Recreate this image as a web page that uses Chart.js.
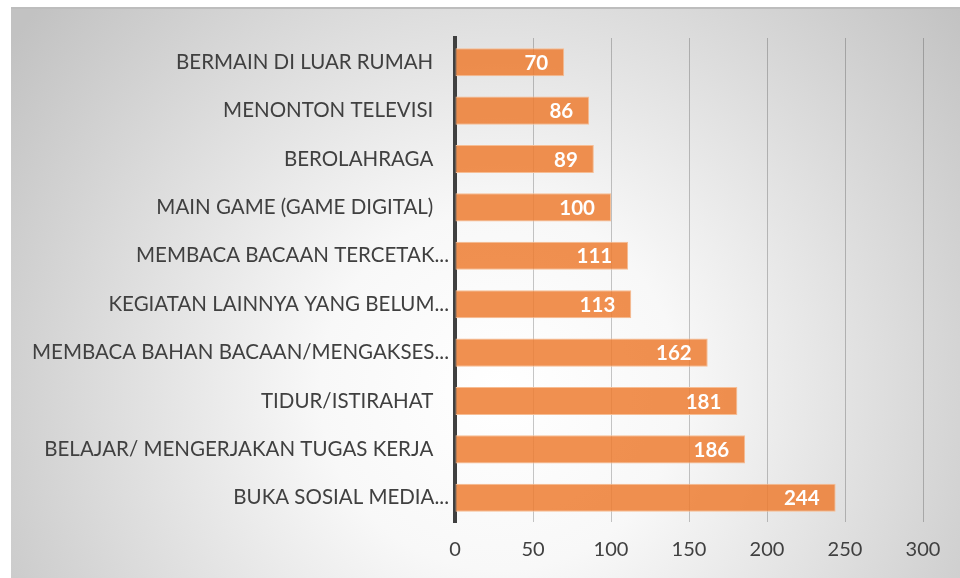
<!DOCTYPE html>
<html>
<head>
<meta charset="utf-8">
<script src="https://cdn.jsdelivr.net/npm/chart.js@4"></script>
<style>
  html, body { margin: 0; padding: 0; background: #fff; }
  #wrap { width: 960px; height: 578px; position: relative; }
</style>
</head>
<body>
<div id="wrap"><canvas id="chart"></canvas></div>
<script>
'use strict';

const activityLabels = [
  'BERMAIN DI LUAR RUMAH',
  'MENONTON TELEVISI',
  'BEROLAHRAGA',
  'MAIN GAME (GAME DIGITAL)',
  'MEMBACA BACAAN TERCETAK...',
  'KEGIATAN LAINNYA YANG BELUM...',
  'MEMBACA BAHAN BACAAN/MENGAKSES...',
  'TIDUR/ISTIRAHAT',
  'BELAJAR/ MENGERJAKAN TUGAS KERJA',
  'BUKA SOSIAL MEDIA...',
];
const activityCounts = [70, 86, 89, 100, 111, 113, 162, 181, 186, 244];
const axisMin = 0;
const axisMax = 300;
const axisStep = 50;

const FONT = 'Lato, "Open Sans", sans-serif';

// radial grey backdrop like the office chart style
const backdrop = {
  id: 'backdrop',
  beforeDraw(chart) {
    const ctx = chart.ctx;
    ctx.save();
    const g = ctx.createRadialGradient(500, 390, 0, 500, 390, 600);
    g.addColorStop(0, '#ffffff');
    g.addColorStop(0.3, '#f8f8f8');
    g.addColorStop(1, '#c2c2c2');
    ctx.fillStyle = g;
    ctx.fillRect(11, 8, 949, 570);
    ctx.fillStyle = '#bdbdbd';
    ctx.fillRect(11, 7, 949, 2);
    ctx.restore();
  },
};

// value labels inside the bar ends
const barValues = {
  id: 'barValues',
  afterDatasetsDraw(chart) {
    const ctx = chart.ctx;
    const meta = chart.getDatasetMeta(0);
    ctx.save();
    ctx.font = 'bold 20.5px ' + FONT;
    ctx.fillStyle = '#ffffff';
    ctx.textAlign = 'right';
    ctx.textBaseline = 'middle';
    meta.data.forEach((bar, i) => {
      ctx.fillText(String(activityCounts[i]), bar.x - 16, bar.y + 1);
    });
    ctx.restore();
  },
};

function onContentLoad() {
  const canvas = document.getElementById('chart');
  new Chart(canvas.getContext('2d'), {
    type: 'bar',
    data: {
      labels: activityLabels,
      datasets: [{
        data: activityCounts,
        backgroundColor: 'rgba(237,125,49,0.85)',
        borderColor: '#f6bd94',
        borderWidth: 1,
        borderSkipped: false,
        categoryPercentage: 1,
        barPercentage: 0.58,
      }],
    },
    options: {
      indexAxis: 'y',
      responsive: false,
      animation: false,
      devicePixelRatio: 1,
      layout: { padding: { left: 0, top: 38, right: 37, bottom: 0 } },
      plugins: {
        legend: { display: false },
        tooltip: { enabled: false },
      },
      scales: {
        x: {
          min: axisMin,
          max: axisMax,
          ticks: {
            stepSize: axisStep,
            color: '#404040',
            font: { family: FONT, size: 20 },
            padding: 16,
          },
          grid: {
            color: 'rgba(0,0,0,0.22)',
            lineWidth: 1,
            drawTicks: false,
          },
          border: { display: false },
          afterFit(scale) { scale.height = 56; },
        },
        y: {
          ticks: {
            color: '#404040',
            font: { family: FONT, size: 20.5 },
            padding: 6,
            callback(value, index) {
              const text = activityLabels[index];
              return text.endsWith('...') ? text : text + '   ';
            },
          },
          grid: { display: false, drawTicks: false },
          border: { display: true, color: '#404040', width: 4 },
          afterFit(scale) { scale.width = 455; },
        },
      },
    },
    plugins: [backdrop, barValues],
  });
}

document.addEventListener('DOMContentLoaded', () => {
  const canvas = document.getElementById('chart');
  canvas.width = 960;
  canvas.height = 578;
  onContentLoad();
});
</script>
</body>
</html>
